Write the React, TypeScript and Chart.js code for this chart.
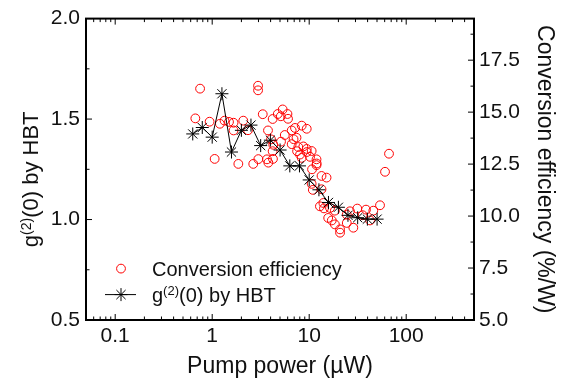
import React, { useEffect, useRef } from "react";
import { Chart, registerables } from "chart.js";

Chart.register(...registerables);

// ---- data ----
const hbtPower = [0.63, 0.79, 1.0, 1.26, 1.58, 2.0, 2.51, 3.16, 3.98, 5.01, 6.31, 7.94, 10.0, 12.6, 15.8, 20.0, 25.1, 31.6, 39.8, 50.1];
const hbtG2 = [1.426, 1.458, 1.41, 1.626, 1.336, 1.444, 1.47, 1.368, 1.395, 1.346, 1.267, 1.267, 1.197, 1.148, 1.085, 1.061, 1.021, 1.009, 1.002, 1.002];

const cePower = [0.67, 0.75, 0.94, 1.06, 1.2, 1.34, 1.49, 1.66, 1.66, 1.86, 2.09, 2.34, 2.65, 2.97, 2.97, 2.99, 3.32, 3.67, 3.76, 3.79, 4.04, 4.2, 4.2, 4.23, 4.26, 4.74, 5.1, 5.12, 5.33, 5.97, 6.05, 6.6, 6.6, 7.14, 7.4, 7.72, 8.04, 8.37, 8.7, 9.43, 9.43, 10.2, 10.6, 10.6, 10.7, 10.9, 11.9, 11.9, 12.9, 13.4, 13.4, 14.0, 14.2, 15.1, 15.7, 16.4, 17.1, 18.4, 18.4, 20.8, 20.8, 24.4, 24.4, 26.3, 28.5, 31.3, 35.6, 38.5, 42.4, 45.8, 53.7, 60.5, 66.5, 7.5, 9.43, 11.95, 8.37, 5.6, 6.9];
const ceEff = [14.7, 16.13, 14.54, 12.75, 14.44, 14.59, 14.53, 14.49, 14.12, 12.51, 14.59, 14.13, 12.51, 16.27, 16.05, 12.74, 14.9, 12.73, 14.12, 12.57, 13.69, 14.67, 13.12, 12.75, 13.43, 14.91, 14.8, 13.58, 15.13, 14.91, 14.68, 14.12, 13.46, 14.24, 13.77, 13.32, 12.96, 14.35, 13.35, 14.2, 13.23, 12.85, 13.13, 11.55, 12.25, 11.26, 12.73, 12.45, 10.47, 11.93, 11.29, 10.63, 10.37, 11.85, 9.91, 10.39, 9.79, 10.26, 9.6, 9.36, 9.2, 9.67, 10.07, 10.23, 9.44, 10.36, 10.04, 10.31, 9.79, 10.26, 10.52, 12.13, 13.0, 13.12, 13.08, 12.53, 12.8, 13.9, 13.7];

const xLabelTicks = [0.1, 1, 10, 100];
const xMinorMultipliers = [1, 2, 3, 4, 5, 6, 7, 8, 9];
const xDecades = [0.01, 0.1, 1, 10, 100];
const gTicks = [0.5, 0.75, 1.0, 1.25, 1.5, 1.75, 2.0];
const gLabelTicks = [0.5, 1.0, 1.5, 2.0];
const effTicks = [5, 6.25, 7.5, 8.75, 10, 11.25, 12.5, 13.75, 15, 16.25, 17.5, 18.75];
const effLabelTicks = [5, 7.5, 10, 12.5, 15, 17.5];

const X_MIN = 0.05, X_MAX = 500;
const G_MIN = 0.5, G_MAX = 2.0;
const E_MIN = 5, E_MAX = 19.5;

const LEGEND_CE = "Conversion efficiency";
const LEGEND_HBT_MAIN = "g";
const LEGEND_HBT_SUP = "(2)";
const LEGEND_HBT_REST = "(0) by HBT";
const X_TITLE = "Pump power (µW)";
const Y2_TITLE = "Conversion efficiency (%/W)";

const FONT = "'Liberation Sans', Arial, Helvetica, sans-serif";
const TEXT = "#111";
const RED = "#ff0000";

const near = (a: number, b: number) => Math.abs(a - b) < 1e-6 * Math.max(1, Math.abs(b));
const inList = (v: number, list: number[]) => list.some((t) => near(v, t));

function drawSupText(ctx: CanvasRenderingContext2D, x: number, y: number, size: number, supSize: number, align: "left" | "center") {
  ctx.textBaseline = "alphabetic";
  ctx.font = `${size}px ${FONT}`;
  const w1 = ctx.measureText(LEGEND_HBT_MAIN).width;
  const w3 = ctx.measureText(LEGEND_HBT_REST).width;
  ctx.font = `${supSize}px ${FONT}`;
  const w2 = ctx.measureText(LEGEND_HBT_SUP).width;
  const total = w1 + w2 + w3;
  let sx = align === "center" ? x - total / 2 : x;
  ctx.textAlign = "left";
  ctx.font = `${size}px ${FONT}`;
  ctx.fillText(LEGEND_HBT_MAIN, sx, y);
  sx += w1;
  ctx.font = `${supSize}px ${FONT}`;
  ctx.fillText(LEGEND_HBT_SUP, sx, y - size * 0.33);
  sx += w2;
  ctx.font = `${size}px ${FONT}`;
  ctx.fillText(LEGEND_HBT_REST, sx, y);
}

const framePlugin = {
  id: "frameTicksLegend",
  afterDraw(chart: any) {
    const { ctx, chartArea: a, scales } = chart;
    const xs = scales.x, ys = scales.y, y2 = scales.y2;
    ctx.save();
    ctx.strokeStyle = "#000";
    ctx.lineWidth = 1;
    const seg = (x1: number, y1: number, x2: number, y2_: number) => {
      ctx.beginPath();
      ctx.moveTo(x1, y1);
      ctx.lineTo(x2, y2_);
      ctx.stroke();
    };
    // x ticks (bottom + top), inward
    xs.ticks.forEach((t: any) => {
      const v = t.value;
      const px = xs.getPixelForValue(v);
      const lg = Math.log10(v);
      const major = Math.abs(lg - Math.round(lg)) < 1e-6;
      const len = major ? 6 : 3.5;
      seg(px, a.bottom, px, a.bottom - len);
      seg(px, a.top, px, a.top + len);
    });
    // left ticks
    ys.ticks.forEach((t: any) => {
      const py = ys.getPixelForValue(t.value);
      const len = inList(t.value, gLabelTicks) ? 6 : 3.5;
      seg(a.left, py, a.left + len, py);
    });
    // right ticks
    y2.ticks.forEach((t: any) => {
      const py = y2.getPixelForValue(t.value);
      const len = inList(t.value, effLabelTicks) ? 6 : 3.5;
      seg(a.right, py, a.right - len, py);
    });
    // frame
    ctx.lineWidth = 2;
    ctx.strokeRect(a.left, a.top, a.right - a.left, a.bottom - a.top);

    // left axis title with superscript
    ctx.fillStyle = TEXT;
    ctx.save();
    ctx.translate(30, (a.top + a.bottom) / 2 + 10);
    ctx.rotate(-Math.PI / 2);
    drawSupText(ctx, 0, 8, 22, 14, "center");
    ctx.restore();

    // legend
    const ceDs = chart.data.datasets[1];
    const hbtDs = chart.data.datasets[0];
    const lx = a.left + 35;
    const ly1 = a.top + 250;
    const ly2 = a.top + 276;
    ctx.strokeStyle = ceDs.pointBorderColor;
    ctx.lineWidth = ceDs.pointBorderWidth;
    ctx.beginPath();
    ctx.arc(lx, ly1, ceDs.pointRadius, 0, Math.PI * 2);
    ctx.stroke();
    ctx.strokeStyle = hbtDs.borderColor;
    ctx.lineWidth = hbtDs.borderWidth;
    seg(lx - 16, ly2, lx + 15, ly2);
    const r = hbtDs.pointRadius;
    seg(lx - r, ly2, lx + r, ly2);
    seg(lx, ly2 - r, lx, ly2 + r);
    const d = r * Math.SQRT1_2;
    seg(lx - d, ly2 - d, lx + d, ly2 + d);
    seg(lx - d, ly2 + d, lx + d, ly2 - d);

    ctx.fillStyle = TEXT;
    ctx.font = `20px ${FONT}`;
    ctx.textAlign = "left";
    ctx.textBaseline = "alphabetic";
    ctx.fillText(LEGEND_CE, lx + 31, ly1 + 7);
    drawSupText(ctx, lx + 31, ly2 + 7, 20, 13, "left");
    ctx.restore();
  },
};

export default function App() {
  const ref = useRef<HTMLCanvasElement | null>(null);
  useEffect(() => {
    document.body.style.margin = "0";
    const canvas = ref.current;
    if (!canvas) return;
    const tickFont = { family: FONT, size: 21 };
    const chart = new Chart(canvas, {
      type: "line",
      data: {
        datasets: [
          {
            label: "g(2)(0) by HBT",
            data: hbtPower.map((x, i) => ({ x, y: hbtG2[i] })),
            yAxisID: "y",
            borderColor: "#000",
            borderWidth: 1,
            pointStyle: "star",
            pointRadius: 6.5,
            pointBorderColor: "#000",
            pointBorderWidth: 1,
            pointBackgroundColor: "#000",
            tension: 0,
            fill: false,
            order: 0,
          } as any,
          {
            label: "Conversion efficiency",
            data: cePower.map((x, i) => ({ x, y: ceEff[i] })),
            yAxisID: "y2",
            showLine: false,
            pointStyle: "circle",
            pointRadius: 4.4,
            pointBorderColor: RED,
            pointBorderWidth: 1,
            pointBackgroundColor: "rgba(0,0,0,0)",
            borderColor: RED,
            backgroundColor: "rgba(0,0,0,0)",
            order: 1,
          } as any,
        ],
      },
      options: {
        animation: false,
        responsive: false,
        devicePixelRatio: 1,
        layout: { padding: { top: 15, left: 0, right: 0, bottom: 0 } },
        plugins: { legend: { display: false }, tooltip: { enabled: false } },
        scales: {
          x: {
            type: "logarithmic",
            position: "bottom",
            min: X_MIN,
            max: X_MAX,
            grid: { display: false, drawTicks: false },
            border: { display: false },
            afterBuildTicks: (s: any) => {
              const t: any[] = [];
              xDecades.forEach((d) =>
                xMinorMultipliers.forEach((m) => {
                  const v = +(m * d).toPrecision(6);
                  if (v >= X_MIN - 1e-9 && v <= X_MAX + 1e-9) t.push({ value: v });
                })
              );
              s.ticks = t;
            },
            ticks: {
              autoSkip: false,
              maxRotation: 0,
              padding: 4,
              color: TEXT,
              font: tickFont,
              callback: (v: any) => (inList(Number(v), xLabelTicks) ? String(Number(v)) : ""),
            },
            title: {
              display: true,
              text: X_TITLE,
              color: TEXT,
              font: { family: FONT, size: 23 },
              padding: { top: 0, bottom: 2 },
            },
            afterFit: (s: any) => {
              s.height = 62;
            },
          } as any,
          y: {
            type: "linear",
            position: "left",
            min: G_MIN,
            max: G_MAX,
            grid: { display: false, drawTicks: false },
            border: { display: false },
            afterBuildTicks: (s: any) => {
              s.ticks = gTicks.map((v) => ({ value: v }));
            },
            ticks: {
              autoSkip: false,
              padding: 6,
              color: TEXT,
              font: tickFont,
              callback: (v: any) => (inList(Number(v), gLabelTicks) ? Number(v).toFixed(1) : ""),
            },
            afterFit: (s: any) => {
              s.width = 86;
            },
          } as any,
          y2: {
            type: "linear",
            position: "right",
            min: E_MIN,
            max: E_MAX,
            grid: { display: false, drawTicks: false },
            border: { display: false },
            afterBuildTicks: (s: any) => {
              s.ticks = effTicks.map((v) => ({ value: v }));
            },
            ticks: {
              autoSkip: false,
              padding: 5,
              color: TEXT,
              font: tickFont,
              callback: (v: any) => (inList(Number(v), effLabelTicks) ? Number(v).toFixed(1) : ""),
            },
            title: {
              display: true,
              text: Y2_TITLE,
              color: TEXT,
              font: { family: FONT, size: 23 },
              padding: { top: 7, bottom: 0 },
            },
            afterFit: (s: any) => {
              s.width = 91;
            },
          } as any,
        },
      },
      plugins: [framePlugin],
    });
    return () => chart.destroy();
  }, []);
  return (
    <div style={{ position: "fixed", left: 0, top: 0, width: 565, height: 382, background: "#fff" }}>
      <canvas ref={ref} width={565} height={382} style={{ display: "block" }} />
    </div>
  );
}
